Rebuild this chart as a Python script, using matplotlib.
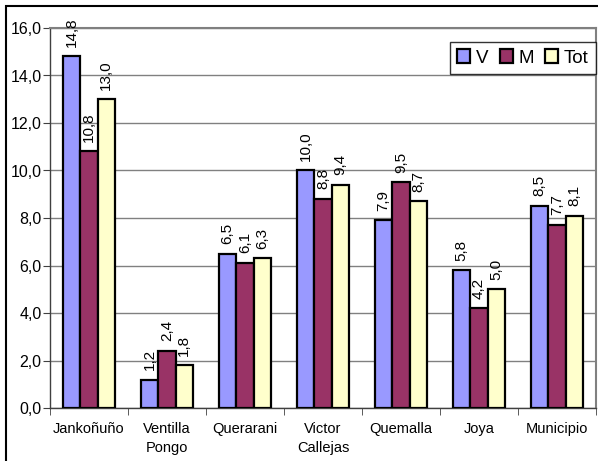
import matplotlib
matplotlib.use("Agg")
import matplotlib.pyplot as plt
from matplotlib.patches import Rectangle
import numpy as np

categories = ["Jankoñuño", "Ventilla\nPongo", "Querarani", "Victor\nCallejas", "Quemalla", "Joya", "Municipio"]
series_names = ["V", "M", "Tot"]
v_vals = [14.8, 1.2, 6.5, 10.0, 7.9, 5.8, 8.5]
m_vals = [10.8, 2.4, 6.1, 8.8, 9.5, 4.2, 7.7]
tot_vals = [13.0, 1.8, 6.3, 9.4, 8.7, 5.0, 8.1]
colors = ["#9999FF", "#993366", "#FFFFCC"]

plt.rcParams['font.family'] = ['Liberation Sans', 'DejaVu Sans']

W, H = 598, 461
fig = plt.figure(figsize=(W/100, H/100), dpi=100)
ax = fig.add_axes([50/W, 1-408/H, (596-50)/W, (408-28)/H])

n = len(categories)
x = np.arange(n)
bw = 1/4.5
allvals = [v_vals, m_vals, tot_vals]
for i, (vals, c, name) in enumerate(zip(allvals, colors, series_names)):
    pos = x + (i-1)*bw
    ax.bar(pos, vals, width=bw, color=c, edgecolor='black', linewidth=1.6, label=name, zorder=3)
    for p, v in zip(pos, vals):
        ax.annotate(f"{v:.1f}".replace('.', ','), (p, v), xytext=(0, 7), textcoords='offset points',
                    rotation=90, ha='center', va='bottom', fontsize=11, zorder=4)

ax.set_xlim(-0.5, n-0.5)
ax.set_ylim(0, 16)
ax.set_yticks(np.arange(0, 17, 2))
ax.set_yticklabels([f"{t:.1f}".replace('.', ',') for t in np.arange(0, 17, 2)], fontsize=11.5)
ax.set_xticks(x)
ax.set_xticklabels(categories, fontsize=10.5, linespacing=1.45)
ax.set_xticks(np.arange(-0.5, n, 1), minor=True)
ax.tick_params(axis='x', which='major', length=0, pad=10)
ax.tick_params(axis='x', which='minor', length=5, direction='out', color='#404040')
ax.tick_params(axis='y', length=5, direction='out', color='#404040', pad=1)
ax.yaxis.grid(True, color='#808080', linewidth=1, zorder=0)
ax.set_axisbelow(True)
for s in ['left', 'bottom']:
    ax.spines[s].set_color('#404040')
    ax.spines[s].set_linewidth(1)
for s in ['top', 'right']:
    ax.spines[s].set_color('#808080')
    ax.spines[s].set_linewidth(1.5)

leg = ax.legend(loc='upper right', bbox_to_anchor=(1.0, (408-42)/(408-28)),
                ncol=3, fontsize=13.5, frameon=True, fancybox=False, edgecolor='black',
                handlelength=0.7, handleheight=0.7, handletextpad=0.3, columnspacing=0.6,
                borderpad=0.4, borderaxespad=0)
leg.get_frame().set_linewidth(1)

fig.patches.append(Rectangle((6/W, -0.1), 1.2, 1-6/H+0.1, transform=fig.transFigure,
                             fill=False, edgecolor='black', linewidth=1.5))

fig.savefig("out.png", dpi=100)
